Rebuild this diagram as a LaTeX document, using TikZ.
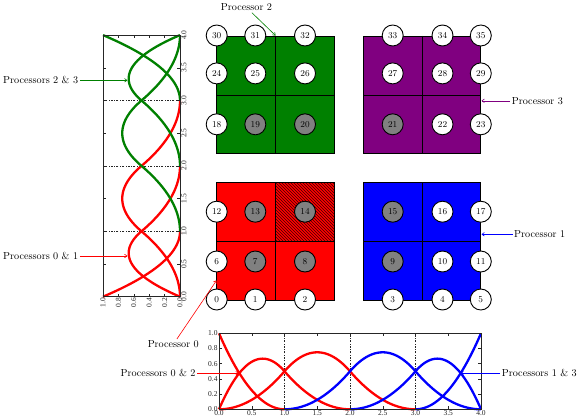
\documentclass[tikz,border=0pt]{standalone}
\usepackage{fontspec}
\newfontfamily\tickfont{Liberation Serif}
\usetikzlibrary{patterns,arrows.meta}
\definecolor{pgreen}{RGB}{0,128,0}
\definecolor{ppurple}{RGB}{128,0,128}
\definecolor{pgray}{RGB}{128,128,128}
\tikzset{
  curve/.style={line width=2.3pt, line join=round, samples=40, smooth},
  frameline/.style={draw=black!85, line width=0.8pt},
  tickline/.style={draw=black!85, line width=0.5pt},
  gridline/.style={dash pattern=on 2pt off 1.5pt on 0.6pt off 1.5pt, line width=0.5pt, black!85},
  ticklab/.style={font=\tickfont\fontsize{7.5}{8}\selectfont, inner sep=1.3pt, text=black!85},
  cellline/.style={draw=black, line width=0.8pt},
  pt/.style={circle, draw=black, line width=0.9pt, minimum size=21pt, inner sep=0pt, font=\fontsize{9}{10}\selectfont},
  wpt/.style={pt, fill=white},
  gpt/.style={pt, fill=pgray},
  lab/.style={font=\fontsize{10.2}{12}\selectfont, inner sep=1.5pt},
  parrow/.style={-{To[length=3pt,width=4pt]}, line width=0.6pt},
}
\newcommand\drawbasis[2]{%
  \draw[curve,#1] plot[domain=0:1] (\x,{(1-\x)*(1-\x)});
  \draw[curve,#1] plot[domain=0:1] (\x,{2*\x-1.5*\x*\x}) -- plot[domain=1:2] (\x,{0.5*(2-\x)*(2-\x)});
  \draw[curve,#1] plot[domain=0:1] (\x,{0.5*\x*\x}) -- plot[domain=1:2] (\x,{-\x*\x+3*\x-1.5}) -- plot[domain=2:3] (\x,{0.5*(3-\x)*(3-\x)});
  \draw[curve,#2] plot[domain=1:2] (\x,{0.5*(\x-1)*(\x-1)}) -- plot[domain=2:3] (\x,{-(4-\x)*(4-\x)+3*(4-\x)-1.5}) -- plot[domain=3:4] (\x,{0.5*(4-\x)*(4-\x)});
  \draw[curve,#2] plot[domain=2:3] (\x,{0.5*(\x-2)*(\x-2)}) -- plot[domain=3:4] (\x,{2*(4-\x)-1.5*(4-\x)*(4-\x)});
  \draw[curve,#2] plot[domain=3:4] (\x,{(\x-3)*(\x-3)});
}
\newcommand\drawaxes[2]{% #1 rotation, #2 name prefix
  \foreach \u in {1,2,3} {\draw[gridline] (\u,0) -- (\u,1);}
}
\newcommand\drawframe[2]{% #1 rotation, #2 name prefix
  \draw[frameline] (0,0) rectangle (4,1);
  \foreach \u in {0,0.5,...,4} {\draw[tickline] (\u,0) -- (\u,0.04) (\u,1) -- (\u,0.96);}
  \foreach \v in {0,0.2,0.4,0.6,0.8,1} {\draw[tickline] (0,\v) -- (0.045,\v) (4,\v) -- (3.955,\v);}
  \foreach \u/\t [count=\i] in {0/0.0,0.5/0.5,1/1.0,1.5/1.5,2/2.0,2.5/2.5,3/3.0,3.5/3.5,4/4.0}
    {\node[ticklab, rotate=#1, anchor=north] (#2u\i) at (\u,0) {\t};}
  \foreach \v/\t [count=\i] in {0/0.0,0.2/0.2,0.4/0.4,0.6/0.6,0.8/0.8,1/1.0}
    {\node[ticklab, rotate=#1, anchor=east] (#2v\i) at (0,\v) {\t};}
}
\begin{document}
\begin{tikzpicture}[x=1pt,y=-1pt]
\useasboundingbox (0,0) rectangle (581,420);
\fill[white] (0,0) rectangle (581,420);

% ---- left (rotated) plot ----
\begin{scope}[shift={(180pt,-296.7pt)}, x={(0pt,65.4pt)}, y={(-77pt,0pt)}]
  \drawaxes{90}{L}
  \drawbasis{red}{pgreen}
  \drawframe{90}{L}
\end{scope}

% ---- bottom plot ----
\begin{scope}[shift={(219pt,-409.3pt)}, x={(65.5pt,0pt)}, y={(0pt,76pt)}]
  \drawaxes{0}{B}
  \drawbasis{red}{blue}
  \drawframe{0}{B}
\end{scope}

% ---- processor squares ----
\fill[red] (216.7,182.5) rectangle (334.2,300);
\fill[pattern=north west lines, pattern color=black!75!red] (275.5,182.5) rectangle (334.2,241.2);
\draw[cellline] (216.7,182.5) rectangle (334.2,300) (275.5,182.5) -- (275.5,300) (216.7,241.2) -- (334.2,241.2);

\fill[blue] (363.3,182.5) rectangle (480.8,300);
\draw[cellline] (363.3,182.5) rectangle (480.8,300) (422.5,182.5) -- (422.5,300) (363.3,241.2) -- (480.8,241.2);

\fill[pgreen] (216.7,36) rectangle (334.2,153.5);
\draw[cellline] (216.7,36) rectangle (334.2,153.5) (275.8,36) -- (275.8,153.5) (216.7,95) -- (334.2,95);

\fill[ppurple] (363.3,36) rectangle (480.8,153.5);
\draw[cellline] (363.3,36) rectangle (480.8,153.5) (422.5,36) -- (422.5,153.5) (363.3,95) -- (480.8,95);

% ---- nodes ----
\node[wpt] (n0) at (216.7,299.5) {0};
\node[wpt] (n1) at (255.3,299.5) {1};
\node[wpt] (n2) at (305,299.5) {2};
\node[wpt] (n3) at (392.7,299.5) {3};
\node[wpt] (n4) at (442.5,299.5) {4};
\node[wpt] (n5) at (480.8,299.5) {5};
\node[wpt] (n6) at (216.7,261.5) {6};
\node[gpt] (n7) at (255.3,261.5) {7};
\node[gpt] (n8) at (305,261.5) {8};
\node[gpt] (n9) at (392.7,261.5) {9};
\node[wpt] (n10) at (442.5,261.5) {10};
\node[wpt] (n11) at (480.8,261.5) {11};
\node[wpt] (n12) at (216.7,211.7) {12};
\node[gpt] (n13) at (255.3,211.7) {13};
\node[gpt] (n14) at (305,211.7) {14};
\node[gpt] (n15) at (392.7,211.7) {15};
\node[wpt] (n16) at (442.5,211.7) {16};
\node[wpt] (n17) at (480.8,211.7) {17};
\node[wpt] (n18) at (216.7,124.3) {18};
\node[gpt] (n19) at (255.3,124.3) {19};
\node[gpt] (n20) at (305,124.3) {20};
\node[gpt] (n21) at (392.7,124.3) {21};
\node[wpt] (n22) at (442.5,124.3) {22};
\node[wpt] (n23) at (480.8,124.3) {23};
\node[wpt] (n24) at (216.7,73.4) {24};
\node[wpt] (n25) at (255.3,73.4) {25};
\node[wpt] (n26) at (305,73.4) {26};
\node[wpt] (n27) at (392.7,73.4) {27};
\node[wpt] (n28) at (442.5,73.4) {28};
\node[wpt] (n29) at (480.8,73.4) {29};
\node[wpt] (n30) at (216.7,35.5) {30};
\node[wpt] (n31) at (255.3,35.5) {31};
\node[wpt] (n32) at (305,35.5) {32};
\node[wpt] (n33) at (392.7,35.5) {33};
\node[wpt] (n34) at (442.5,35.5) {34};
\node[wpt] (n35) at (480.8,35.5) {35};

% ---- labels and arrows ----
\coordinate (t2) at (275.5,35.5);
\coordinate (t3) at (481.6,100.8);
\coordinate (t1) at (481.6,234.3);
\coordinate (t0) at (216.5,280.5);
\coordinate (t23) at (127.3,80.3);
\coordinate (t01) at (127.3,256);
\coordinate (t02) at (238.6,373.2);
\coordinate (t13) at (460.6,373.2);

\node[lab] (p2) at (246.5,7.5) {Processor 2};
\node[lab, anchor=west] (p3) at (510.2,100.8) {Processor 3};
\node[lab, anchor=west] (p1) at (512.5,234.3) {Processor 1};
\node[lab] (p0) at (173.3,344.3) {Processor 0};
\node[lab, anchor=east] (p23) at (79.8,80.3) {Processors 2 \& 3};
\node[lab, anchor=east] (p01) at (79.8,256) {Processors 0 \& 1};
\node[lab, anchor=east] (p02) at (197.2,373.2) {Processors 0 \& 2};
\node[lab, anchor=west] (p13) at (500.2,373.2) {Processors 1 \& 3};

\draw[parrow, pgreen] (p2) -- (t2);
\draw[parrow, ppurple] (p3) -- (t3);
\draw[parrow, blue] (p1) -- (t1);
\draw[parrow, red] (p0) -- (t0);
\draw[parrow, pgreen] (p23) -- (t23);
\draw[parrow, red] (p01) -- (t01);
\draw[parrow, red] (p02) -- (t02);
\draw[parrow, blue] (p13) -- (t13);
\end{tikzpicture}
\end{document}
